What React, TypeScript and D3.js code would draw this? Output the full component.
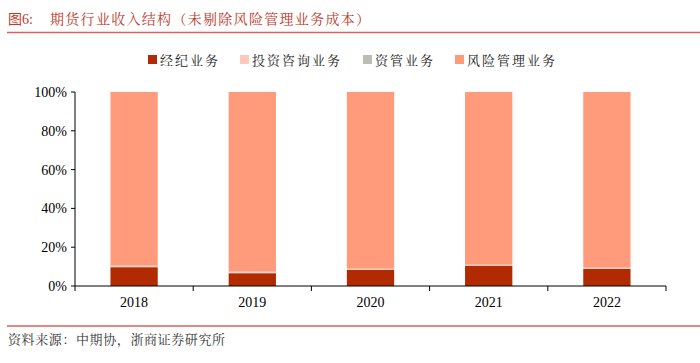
import React from "react";
import * as d3 from "d3";

const years = ["2018", "2019", "2020", "2021", "2022"];
const brokerage = [9.7, 6.6, 8.3, 10.5, 8.8];
const advisory = [0.4, 0.4, 0.3, 0.3, 0.3];
const assetMgmt = [0.5, 0.5, 0.4, 0.4, 0.4];
const seriesNames = ["经纪业务", "投资咨询业务", "资管业务", "风险管理业务"];
const seriesColors = ["#B22A00", "#FFC8B8", "#BDBDB5", "#FF9A7B"];
const yTicks = [0, 20, 40, 60, 80, 100];

const W = 700, H = 363;
const left = 75, right = 666, top = 92, bottom = 286;

export default function App() {
  const rows = years.map((y, i) => {
    const risk = 100 - brokerage[i] - advisory[i] - assetMgmt[i];
    return { year: y, s0: brokerage[i], s1: advisory[i], s2: assetMgmt[i], s3: risk };
  });
  const stack = d3.stack<any>().keys(["s0", "s1", "s2", "s3"])(rows);
  const x = d3.scaleBand().domain(years).range([left, right]).paddingInner(0.6).paddingOuter(0.3);
  const xb = d3.scaleBand().domain(years).range([left, right]);
  const y = d3.scaleLinear().domain([0, 100]).range([bottom, top]);
  const font = "'Times New Roman', 'Liberation Serif', 'Noto Sans CJK SC', serif";
  const cjk = "'Noto Serif CJK SC', 'Noto Sans CJK SC', serif";
  const legendX = [148, 240, 363, 455];

  return (
    <svg width={W} height={H} style={{ position: "absolute", left: 0, top: 0, background: "#fff" }}>
      <text x={8} y={24} fontSize={14} fill="#C0392B" fontFamily={font}>图6:</text>
      <text x={50} y={24} fontSize={14} fill="#C0392B" fontFamily={cjk} letterSpacing={1.3}>期货行业收入结构（未剔除风险管理业务成本）</text>
      <line x1={7} x2={700} y1={32.5} y2={32.5} stroke="#D9605F" strokeWidth={1.5} />

      {seriesNames.map((n, i) => (
        <g key={n}>
          <rect x={legendX[i]} y={55} width={9} height={9} fill={seriesColors[i]} />
          <text x={legendX[i] + 12} y={64.5} fontSize={13} fontFamily={cjk} fill="#222" letterSpacing={2}>{n}</text>
        </g>
      ))}

      {stack.map((s, si) => (
        <g key={si} fill={seriesColors[si]}>
          {s.map((d, i) => (
            <rect key={i} x={x(years[i])} width={x.bandwidth()} y={y(d[1])} height={y(d[0]) - y(d[1])} />
          ))}
        </g>
      ))}

      <line x1={left} x2={left} y1={top} y2={bottom} stroke="#000" />
      <line x1={left} x2={right} y1={bottom} y2={bottom} stroke="#000" />
      {yTicks.map(t => (
        <g key={t}>
          <line x1={left - 4} x2={left} y1={y(t)} y2={y(t)} stroke="#000" />
          <text x={left - 8} y={y(t) + 5} textAnchor="end" fontSize={14} fontFamily={font}>{t}%</text>
        </g>
      ))}
      {years.concat(["end"]).map((yr, i) => {
        const xx = i < years.length ? (xb(yr) as number) : right;
        return <line key={i} x1={xx} x2={xx} y1={bottom} y2={bottom + 5} stroke="#000" />;
      })}
      {years.map(yr => (
        <text key={yr} x={(xb(yr) as number) + xb.bandwidth() / 2} y={307} textAnchor="middle" fontSize={14} fontFamily={font}>{yr}</text>
      ))}

      <line x1={7} x2={700} y1={326} y2={326} stroke="#D9605F" strokeWidth={1.5} />
      <text x={8} y={344} fontSize={13} fontFamily={cjk} fill="#333" letterSpacing={0.6}>资料来源：中期协，浙商证券研究所</text>
    </svg>
  );
}
